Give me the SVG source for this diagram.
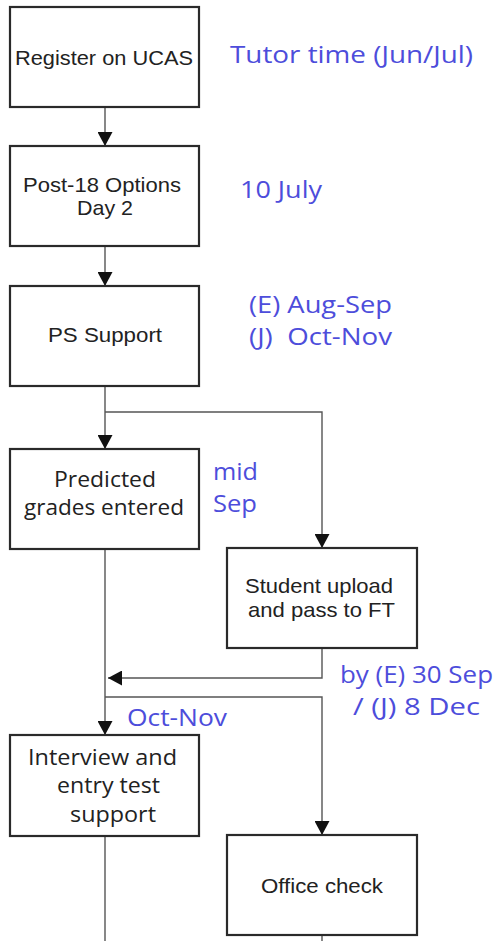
<svg xmlns="http://www.w3.org/2000/svg" width="498" height="941" viewBox="0 0 498 941">
<defs>
<marker id="ah" viewBox="0 0 14 15" refX="14" refY="7.5" markerWidth="14" markerHeight="15" markerUnits="userSpaceOnUse" orient="auto">
<path d="M0,0 L14,7.5 L0,15 Z" fill="#111"/>
</marker>
<style>
.box{fill:#fff;stroke:#2a2a2a;stroke-width:2.2}
.c{fill:none;stroke:#555;stroke-width:1.4}
.a{font-family:"Liberation Sans",Arial,sans-serif;font-size:21px;fill:#222}
.k{font-family:"Open Sans","Noto Sans",sans-serif;font-size:21px;fill:#222}
.b{font-family:"Open Sans","Noto Sans",sans-serif;font-size:23px;fill:#4d4ddb}
</style>
</defs>
<rect width="498" height="941" fill="#fff"/>
<g id="connectors">
<path class="c" d="M105,107 V146" marker-end="url(#ah)"/>
<path class="c" d="M105,246 V286" marker-end="url(#ah)"/>
<path class="c" d="M105,386 V449" marker-end="url(#ah)"/>
<path class="c" d="M105,412 H322 V548" marker-end="url(#ah)"/>
<path class="c" d="M322,648 V678 H108" marker-end="url(#ah)"/>
<path class="c" d="M105,549 V735" marker-end="url(#ah)"/>
<path class="c" d="M105,697 H322 V835" marker-end="url(#ah)"/>
<path class="c" d="M105,836 V941"/>
<path class="c" d="M322,935 V941"/>
</g>
<g id="register">
<rect class="box" x="10" y="7" width="189" height="100"/>
<text class="a" x="15" y="65" textLength="178" lengthAdjust="spacingAndGlyphs">Register on UCAS</text>
</g>
<g id="post18">
<rect class="box" x="10" y="146" width="189" height="100"/>
<text class="a" x="23" y="192" textLength="158" lengthAdjust="spacingAndGlyphs">Post-18 Options</text>
<text class="a" x="77" y="215" textLength="56" lengthAdjust="spacingAndGlyphs">Day 2</text>
</g>
<g id="ps">
<rect class="box" x="10" y="286" width="189" height="100"/>
<text class="a" x="48" y="342" textLength="114" lengthAdjust="spacingAndGlyphs">PS Support</text>
</g>
<g id="predicted">
<rect class="box" x="10" y="449" width="189" height="100"/>
<text class="k" x="54" y="487" textLength="102" lengthAdjust="spacingAndGlyphs">Predicted</text>
<text class="k" x="24" y="515" textLength="160" lengthAdjust="spacingAndGlyphs">grades entered</text>
</g>
<g id="upload">
<rect class="box" x="227" y="548" width="190" height="100"/>
<text class="a" x="245" y="593" textLength="148" lengthAdjust="spacingAndGlyphs">Student upload</text>
<text class="a" x="248" y="617" textLength="147" lengthAdjust="spacingAndGlyphs">and pass to FT</text>
</g>
<g id="interview">
<rect class="box" x="10" y="735" width="189" height="101"/>
<text class="k" x="28" y="765" textLength="149" lengthAdjust="spacingAndGlyphs">Interview and</text>
<text class="k" x="57" y="793" textLength="103" lengthAdjust="spacingAndGlyphs">entry test</text>
<text class="k" x="70" y="822" textLength="86" lengthAdjust="spacingAndGlyphs">support</text>
</g>
<g id="office">
<rect class="box" x="227" y="835" width="190" height="100"/>
<text class="a" x="261" y="893" textLength="122" lengthAdjust="spacingAndGlyphs">Office check</text>
</g>
<g id="labels">
<text class="b" x="230" y="63" textLength="243" lengthAdjust="spacingAndGlyphs">Tutor time (Jun/Jul)</text>
<text class="b" x="240" y="198" textLength="82" lengthAdjust="spacingAndGlyphs">10 July</text>
<text class="b" x="249" y="313" textLength="143" lengthAdjust="spacingAndGlyphs">(E) Aug-Sep</text>
<text class="b" x="249" y="345" textLength="143" lengthAdjust="spacingAndGlyphs" xml:space="preserve">(J)  Oct-Nov</text>
<text class="b" x="213" y="480" textLength="45" lengthAdjust="spacingAndGlyphs">mid</text>
<text class="b" x="213" y="512" textLength="44" lengthAdjust="spacingAndGlyphs">Sep</text>
<text class="b" x="340" y="683" textLength="153" lengthAdjust="spacingAndGlyphs">by (E) 30 Sep</text>
<text class="b" x="353" y="715" textLength="127" lengthAdjust="spacingAndGlyphs">/ (J) 8 Dec</text>
<text class="b" x="127" y="726" textLength="100" lengthAdjust="spacingAndGlyphs">Oct-Nov</text>
</g>
</svg>
